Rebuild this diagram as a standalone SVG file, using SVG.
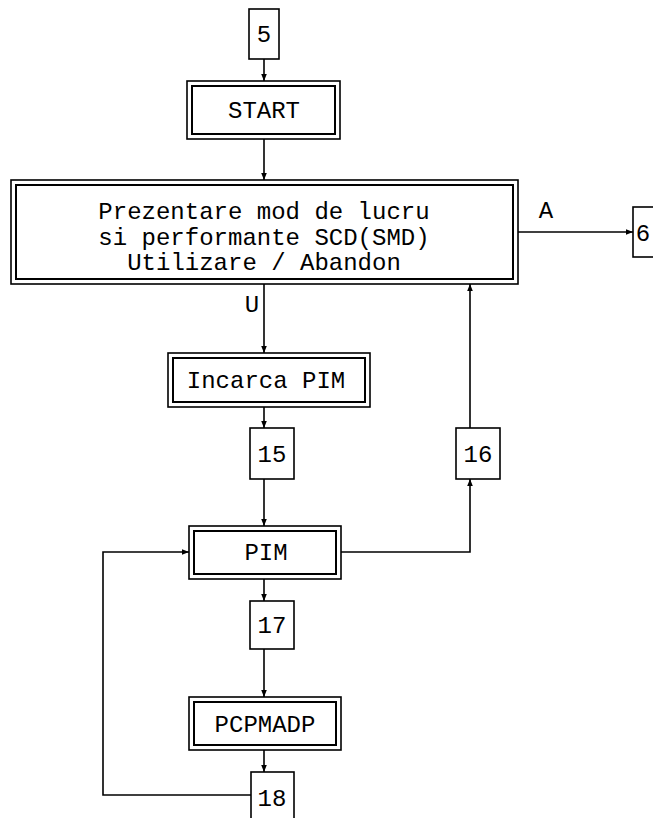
<svg xmlns="http://www.w3.org/2000/svg" width="653" height="818" viewBox="0 0 653 818">
<style>
.o{fill:#fff;stroke:#000;stroke-width:1.6}
.i{fill:none;stroke:#000;stroke-width:2}
.n{fill:#fff;stroke:#000;stroke-width:1.6}
.t{font-family:"Liberation Mono",monospace;font-size:24px;fill:#000;text-anchor:middle}
.c{fill:none;stroke:#000;stroke-width:1.6}
</style>
<defs>
<marker id="a" viewBox="0 0 10 10" refX="10" refY="5" markerWidth="7" markerHeight="7" markerUnits="userSpaceOnUse" orient="auto"><path d="M0,1 L10,5 L0,9 Z" fill="#000"/></marker>
</defs>
<g id="connectors">
<line class="c" x1="264" y1="59" x2="264" y2="81" marker-end="url(#a)"/>
<line class="c" x1="264" y1="139" x2="264" y2="180" marker-end="url(#a)"/>
<line class="c" x1="518" y1="232" x2="633" y2="232" marker-end="url(#a)"/>
<line class="c" x1="264" y1="284" x2="264" y2="353" marker-end="url(#a)"/>
<line class="c" x1="264" y1="407" x2="264" y2="428" marker-end="url(#a)"/>
<line class="c" x1="470" y1="428" x2="470" y2="284" marker-end="url(#a)"/>
<line class="c" x1="264" y1="479" x2="264" y2="526" marker-end="url(#a)"/>
<polyline class="c" points="341,552 470,552 470,479" marker-end="url(#a)"/>
<line class="c" x1="264" y1="579" x2="264" y2="601" marker-end="url(#a)"/>
<line class="c" x1="264" y1="649" x2="264" y2="697" marker-end="url(#a)"/>
<line class="c" x1="264" y1="750" x2="264" y2="772" marker-end="url(#a)"/>
<polyline class="c" points="251,795 103,795 103,552 189,552" marker-end="url(#a)"/>
<text class="t" x="546" y="218">A</text>
<text class="t" x="252" y="312">U</text>
</g>
<g id="n5"><rect class="n" x="249" y="9" width="30" height="50"/><text class="t" x="264" y="42">5</text></g>
<g id="start"><rect class="o" x="187" y="81" width="153" height="58"/><rect class="i" x="192" y="86" width="143" height="48"/><text class="t" x="264" y="118">START</text></g>
<g id="main"><rect class="o" x="11" y="180" width="507" height="104"/><rect class="i" x="16" y="185" width="497" height="94"/>
<text class="t" x="264" y="219">Prezentare mod de lucru</text>
<text class="t" x="264" y="245">si performante SCD(SMD)</text>
<text class="t" x="264" y="270">Utilizare / Abandon</text></g>
<g id="n6"><rect class="n" x="633" y="207" width="40" height="50"/><text class="t" x="643" y="241">6</text></g>
<g id="incarca"><rect class="o" x="168" y="353" width="202" height="54"/><rect class="i" x="173" y="358" width="192" height="44"/><text class="t" x="266" y="388">Incarca PIM</text></g>
<g id="n15"><rect class="n" x="250" y="428" width="44" height="51"/><text class="t" x="272" y="462">15</text></g>
<g id="n16"><rect class="n" x="456" y="428" width="44" height="51"/><text class="t" x="478" y="462">16</text></g>
<g id="pim"><rect class="o" x="189" y="526" width="152" height="53"/><rect class="i" x="194" y="531" width="142" height="43"/><text class="t" x="266" y="560">PIM</text></g>
<g id="n17"><rect class="n" x="250" y="601" width="44" height="48"/><text class="t" x="272" y="633">17</text></g>
<g id="pcpmadp"><rect class="o" x="189" y="697" width="152" height="53"/><rect class="i" x="194" y="702" width="142" height="43"/><text class="t" x="265" y="732">PCPMADP</text></g>
<g id="n18"><rect class="n" x="251" y="772" width="43" height="60"/><text class="t" x="272" y="806">18</text></g>
</svg>
